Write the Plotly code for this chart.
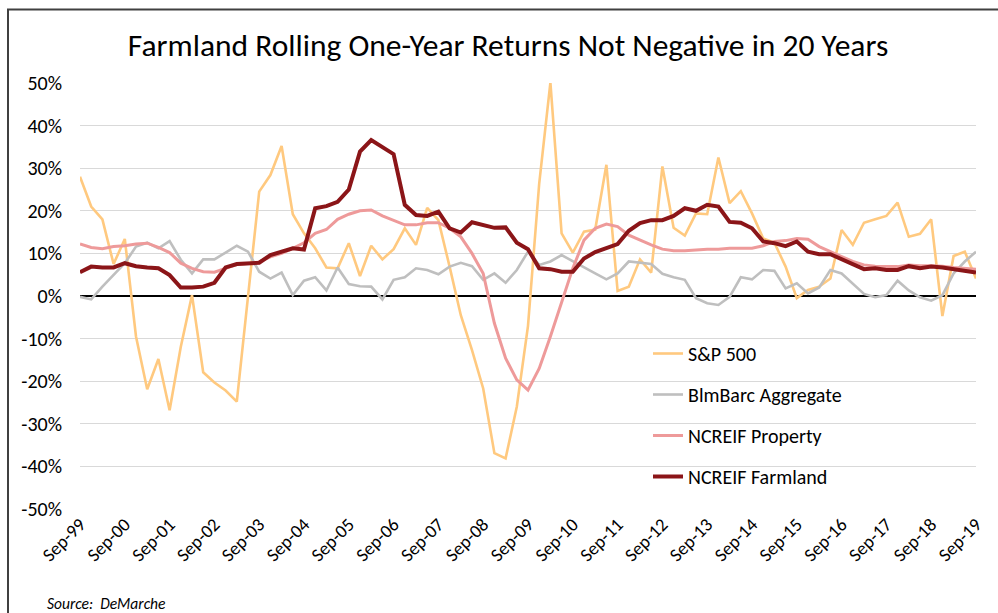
import plotly.graph_objects as go

# Quarterly observations, Sep-99 .. Sep-19 (81 quarters)
months = ["Sep", "Dec", "Mar", "Jun"]
years = ["99", "00", "01", "02", "03", "04", "05", "06", "07", "08", "09",
         "10", "11", "12", "13", "14", "15", "16", "17", "18", "19"]
quarters = []
for k, y in enumerate(years):
    for j, m in enumerate(months):
        if k == len(years) - 1 and j > 0:
            break
        yy = y if m in ("Sep", "Dec") else years[k + 1]
        quarters.append(f"{m}-{yy}")

tick_labels = ["Sep-" + y for y in years]
y_tick_vals = [50, 40, 30, 20, 10, 0, -10, -20, -30, -40, -50]
y_tick_text = ["50%", "40%", "30%", "20%", "10%", "0%", "-10%", "-20%", "-30%", "-40%", "-50%"]

sp500 = [28.0, 21.0, 18.0, 7.5, 13.4, -9.5, -21.9, -14.8, -26.8, -11.9,
         0.2, -17.9, -20.3, -22.2, -24.8, 0.5, 24.5, 28.4, 35.2, 19.2,
         14.7, 11.2, 6.7, 6.5, 12.4, 4.7, 11.8, 8.6, 11.0, 15.9,
         12.0, 20.7, 17.8, 6.9, -4.5, -12.7, -21.7, -36.9, -38.1, -26.0,
         -7.0, 26.4, 50.1, 14.7, 10.2, 15.1, 15.6, 30.8, 1.2, 2.2,
         8.6, 5.5, 30.4, 16.0, 14.2, 19.4, 19.2, 32.5, 21.8, 24.6,
         19.4, 13.5, 12.5, 6.9, -0.5, 1.4, 2.2, 4.1, 15.5, 12.0,
         17.2, 18.0, 18.8, 21.9, 13.9, 14.6, 18.0, -4.7, 9.4, 10.4,
         4.1]

blmbarc = [-0.2, -0.8, 2.2, 4.9, 7.7, 11.6, 12.5, 11.2, 12.9, 8.5,
           5.3, 8.6, 8.6, 10.2, 11.8, 10.4, 5.7, 4.1, 5.5, 0.2,
           3.6, 4.4, 1.3, 6.7, 2.8, 2.3, 2.2, -0.8, 3.8, 4.4,
           6.5, 6.1, 5.1, 6.9, 7.8, 7.0, 3.8, 5.3, 3.1, 6.1,
           10.4, 7.3, 8.1, 9.6, 8.1, 6.7, 5.3, 3.9, 5.3, 8.1,
           7.8, 7.5, 5.2, 4.4, 3.8, -0.5, -1.7, -2.1, -0.2, 4.4,
           3.9, 6.1, 5.9, 1.8, 3.0, 0.6, 2.0, 6.1, 5.3, 2.8,
           0.5, -0.3, 0.2, 3.6, 1.3, -0.3, -1.1, 0.2, 5.3, 8.1,
           10.4]

ncreif_property = [12.2, 11.4, 11.1, 11.6, 11.8, 12.2, 12.4, 11.4, 10.2, 7.7,
                   6.5, 5.7, 5.6, 6.5, 7.4, 7.6, 8.0, 9.2, 10.0, 11.2,
                   12.5, 14.7, 15.6, 18.0, 19.2, 20.0, 20.2, 18.8, 17.7, 16.7,
                   16.7, 17.2, 17.2, 15.9, 13.9, 10.0, 5.3, -6.4, -14.6, -19.7,
                   -22.1, -17.0, -9.5, -1.3, 6.5, 13.1, 15.9, 16.9, 16.3, 14.3,
                   13.1, 12.0, 11.0, 10.6, 10.6, 10.8, 11.0, 11.0, 11.2, 11.2,
                   11.2, 11.8, 12.8, 13.0, 13.5, 13.3, 11.6, 10.4, 9.2, 8.1,
                   7.3, 7.0, 6.9, 6.9, 7.3, 7.1, 7.1, 7.0, 6.7, 6.5,
                   6.3]

ncreif_farmland = [5.6, 6.9, 6.7, 6.7, 7.7, 7.0, 6.7, 6.5, 4.9, 2.0,
                   2.0, 2.2, 3.1, 6.7, 7.5, 7.7, 7.8, 9.6, 10.4, 11.2,
                   10.9, 20.6, 21.1, 22.1, 25.0, 33.9, 36.6, 34.9, 33.3, 21.4,
                   19.0, 18.8, 19.8, 15.9, 14.9, 17.3, 16.6, 16.0, 16.1, 12.5,
                   11.0, 6.5, 6.3, 5.7, 5.7, 8.8, 10.3, 11.2, 12.2, 15.3,
                   17.1, 17.8, 17.8, 18.8, 20.6, 20.0, 21.4, 21.0, 17.4, 17.2,
                   15.9, 12.8, 12.4, 11.7, 12.8, 10.4, 9.8, 9.8, 8.6, 7.3,
                   6.3, 6.5, 6.1, 6.1, 7.0, 6.5, 6.9, 6.7, 6.3, 5.9,
                   5.5]

series = [
    ("S&P 500", sp500, "#FFC97F", 2.6),
    ("BlmBarc Aggregate", blmbarc, "#BFBFBF", 2.6),
    ("NCREIF Property", ncreif_property, "#EE9A9A", 3.0),
    ("NCREIF Farmland", ncreif_farmland, "#8B1518", 4.0),
]

fig = go.Figure()
for name, vals, color, w in series:
    fig.add_trace(go.Scatter(
        x=quarters, y=vals, mode="lines", name=name, legendgroup=name,
        line=dict(color=color, width=w),
    ))

FONT = "Carlito, Calibri, Lato, sans-serif"

# plot area: x 80..976, y 83..509 (pixels)
W, H = 998, 613
L, R, T, B = 80, 22, 83, 104
pw, ph = W - L - R, H - T - B

def px(x):
    return (x - L) / pw

def py(y):
    return (H - B - y) / ph

fig.update_layout(
    width=W, height=H,
    margin=dict(l=L, r=R, t=T, b=B),
    paper_bgcolor="white", plot_bgcolor="white",
    title=dict(text="Farmland Rolling One-Year Returns Not Negative in 20 Years",
               x=px(508), xanchor="center", xref="paper", y=1 - 45 / H, yanchor="middle",
               font=dict(family=FONT, size=31.5, color="#000000")),
    font=dict(family=FONT, color="#000000"),
    xaxis=dict(type="category", categoryorder="array", categoryarray=quarters,
               range=[0, len(quarters) - 1],
               tickmode="array", tickvals=tick_labels, ticktext=tick_labels,
               tickangle=-45, tickfont=dict(size=18.5, family=FONT, color="#000000"),
               showgrid=False, showline=False, ticks="", zeroline=False),
    yaxis=dict(range=[-50, 50], tickmode="array", tickvals=y_tick_vals, ticktext=y_tick_text,
               tickfont=dict(size=20, family=FONT, color="#000000"),
               showgrid=True, gridcolor="#D9D9D9", gridwidth=1.2,
               zeroline=True, zerolinecolor="#000000", zerolinewidth=2,
               showline=False, ticks="", ticklabelstandoff=17),
    legend=dict(x=px(648), y=py(334), xanchor="left", yanchor="top",
                bgcolor="rgba(0,0,0,0)", font=dict(size=20, family=FONT, color="#000000"),
                traceorder="grouped", tracegroupgap=12, itemwidth=30),
    showlegend=True,
)

shapes = [
    # white legend background that hides the gridlines
    dict(type="rect", xref="paper", yref="paper", layer="between",
         x0=px(617), x1=px(878), y0=py(330), y1=py(500),
         fillcolor="white", line=dict(width=0)),
    # outer border of the chart (left and top edges visible)
    dict(type="rect", xref="paper", yref="paper", layer="above",
         x0=px(8), x1=px(1010), y0=py(9.5), y1=py(640),
         fillcolor="rgba(0,0,0,0)", line=dict(color="#404040", width=2)),
]
fig.update_layout(shapes=shapes)

fig.add_annotation(text="<i>Source:  DeMarche</i>", xref="paper", yref="paper",
                   x=px(45), y=py(603), xanchor="left", yanchor="middle",
                   showarrow=False, font=dict(size=15.5, family=FONT, color="#000000"))

fig.write_html("out.html", config={"displayModeBar": False},
               post_script="document.body.style.margin='0';")
